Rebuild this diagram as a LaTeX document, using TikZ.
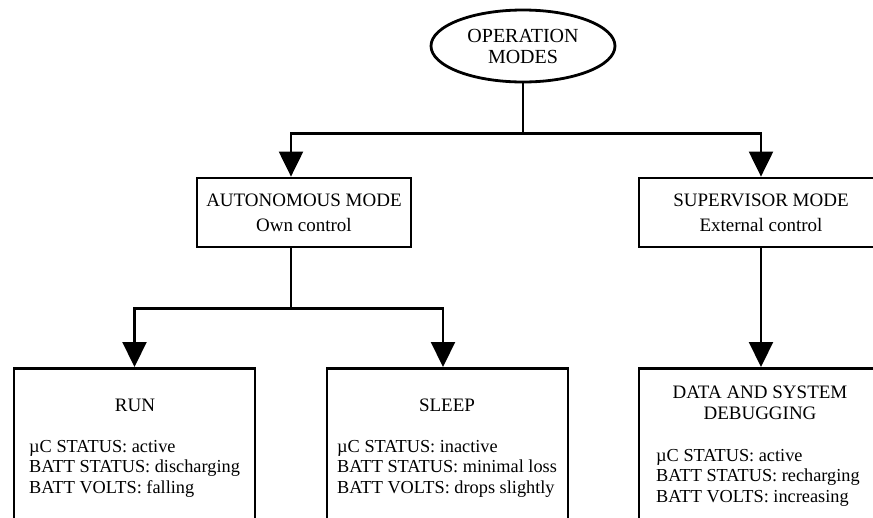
\documentclass[tikz,border=0pt]{standalone}
\usepackage{fontspec}
\setmainfont{Liberation Serif}
\usetikzlibrary{arrows.meta,shapes.geometric}

\tikzset{
  modebox/.style={draw, line width=2.8pt, minimum width=214pt, minimum height=69pt, inner sep=0pt},
  statebox/.style={draw, line width=2.8pt, minimum width=241pt, minimum height=200pt, anchor=north, inner sep=0pt},
  link/.style={line width=2.2pt, -{Triangle[width=24pt,length=25pt]}},
  txt/.style={font=\fontsize{19}{21}\selectfont, inner sep=0pt, align=center},
  info/.style={font=\fontsize{18.3}{20.5}\selectfont, inner sep=0pt, align=left, anchor=north west}
}

\begin{document}
\begin{tikzpicture}[x=1pt,y=-1pt]
\useasboundingbox (0,0) rectangle (873,517);
\clip (0,0) rectangle (873,517);
% top of the tree
\node[draw, ellipse, line width=2.8pt, minimum width=184pt, minimum height=72pt, txt, font=\fontsize{20}{21}\selectfont] (modes) at (523,46) {OPERATION\\MODES};
% the two modes
\node[modebox, txt] (auto) at (304,212.5) {AUTONOMOUS MODE\\[4pt]Own control};
\node[modebox, txt, minimum width=244pt] (sup) at (761,212.5) {SUPERVISOR MODE\\[4pt]External control};
% bottom boxes (cut by the page)
\node[statebox] (run) at (134.5,367) {};
\node[statebox] (sleep) at (447.5,367) {};
\node[statebox, minimum width=244pt] (data) at (761,367) {};
\node[txt] (runname) at (135,405) {RUN};
\node[txt] (sleepname) at (447,405) {SLEEP};
\node[txt] (dataname) at (760,402.5) {DATA AND SYSTEM\\DEBUGGING};
\node[info] (runinfo) at (29,440) {µC STATUS: active\\BATT STATUS: discharging\\BATT VOLTS: falling};
\node[info] (sleepinfo) at (337,440) {µC STATUS: inactive\\BATT STATUS: minimal loss\\BATT VOLTS: drops slightly};
\node[info] (datainfo) at (656,449) {µC STATUS: active\\BATT STATUS: recharging\\BATT VOLTS: increasing};
% connectors
\draw[link] (modes.south) -- ++(0,50) -| ([xshift=-13pt]auto.north);
\draw[link] (modes.south) -- ++(0,50) -| (sup.north);
\draw[link] ([xshift=-13pt]auto.south) -- ++(0,60) -| (run.north);
\draw[link] ([xshift=-13pt]auto.south) -- ++(0,60) -| ([xshift=-4.5pt]sleep.north);
\draw[link] (sup.south) -- (data.north);
\end{tikzpicture}
\end{document}
